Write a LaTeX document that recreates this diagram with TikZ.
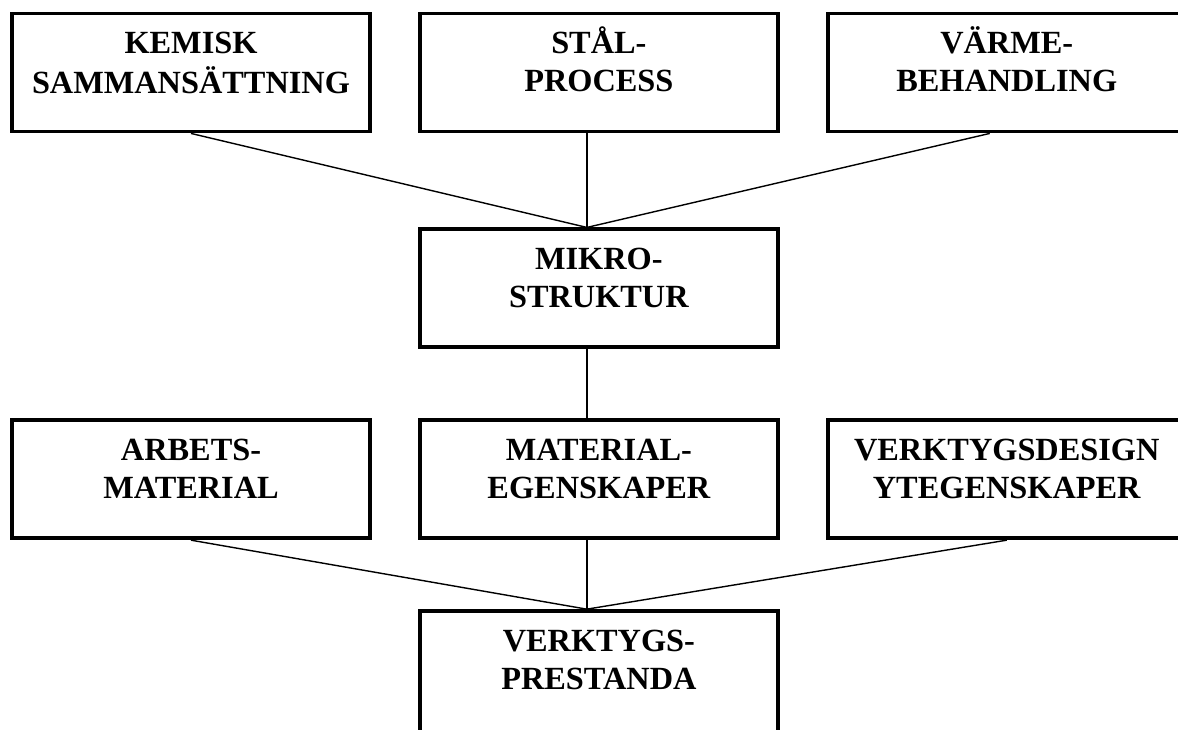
\documentclass[tikz,border=0pt]{standalone}
\usepackage{fontspec}
\setmainfont{Liberation Serif}
\usetikzlibrary{positioning}

\begin{document}
\begin{tikzpicture}[
    node distance=1.38cm and 0.92cm,
    every node/.style={font=\fontsize{18.4}{21.6}\selectfont\bfseries},
    block/.style={rectangle, draw, line width=2.2pt, minimum width=7.16cm, minimum height=2.36cm},
    caption/.style={inner sep=0pt, outer sep=0pt, align=center},
    link/.style={line width=0.8pt}
]
\useasboundingbox (0,0) rectangle (23.56,-14.58);
\clip (0,0) rectangle (23.56,-14.58);

% top row
\node[block] (kemisk) at (3.82,-1.45) {};
\node[block, right=0.92cm of kemisk] (stal) {};
\node[block, right=0.92cm of stal] (varme) {};

% middle
\node[block, below=1.88cm of stal] (mikro) {};

% bottom row
\node[block, below=1.38cm of mikro] (material) {};
\node[block, left=0.92cm of material] (arbets) {};
\node[block, right=0.92cm of material] (design) {};
\node[block, below=1.38cm of material, minimum height=2.8cm] (prestanda) {};

\node[caption, below=0.31cm of kemisk.north] (kemisk-txt) {\strut KEMISK\\SAMMANSÄTTNING};
\node[caption, below=0.31cm of stal.north] (stal-txt) {\strut STÅL-\\PROCESS};
\node[caption, below=0.31cm of varme.north] (varme-txt) {\strut VÄRME-\\BEHANDLING};
\node[caption, below=0.31cm of mikro.north] (mikro-txt) {\strut MIKRO-\\STRUKTUR};
\node[caption, below=0.31cm of arbets.north] (arbets-txt) {\strut ARBETS-\\MATERIAL};
\node[caption, below=0.31cm of material.north] (material-txt) {\strut MATERIAL-\\EGENSKAPER};
\node[caption, below=0.31cm of design.north] (design-txt) {\strut VERKTYGSDESIGN\\YTEGENSKAPER};
\node[caption, below=0.31cm of prestanda.north] (prestanda-txt) {\strut VERKTYGS-\\PRESTANDA};

% meeting points of the connectors
\coordinate (stal-out) at ([xshift=-0.24cm]stal.south);
\coordinate (varme-out) at ([xshift=-0.34cm]varme.south);
\coordinate (mikro-in) at ([xshift=-0.24cm]mikro.north);
\coordinate (mikro-out) at ([xshift=-0.24cm]mikro.south);
\coordinate (material-in) at ([xshift=-0.24cm]material.north);
\coordinate (material-out) at ([xshift=-0.24cm]material.south);
\coordinate (prestanda-in) at ([xshift=-0.24cm]prestanda.north);

\draw[link] (kemisk.south) -- (mikro-in);
\draw[link] (stal-out) -- (mikro-in);
\draw[link] (varme-out) -- (mikro-in);
\draw[link] (mikro-out) -- (material-in);
\draw[link] (arbets.south) -- (prestanda-in);
\draw[link] (material-out) -- (prestanda-in);
\draw[link] (design.south) -- (prestanda-in);

\end{tikzpicture}
\end{document}
